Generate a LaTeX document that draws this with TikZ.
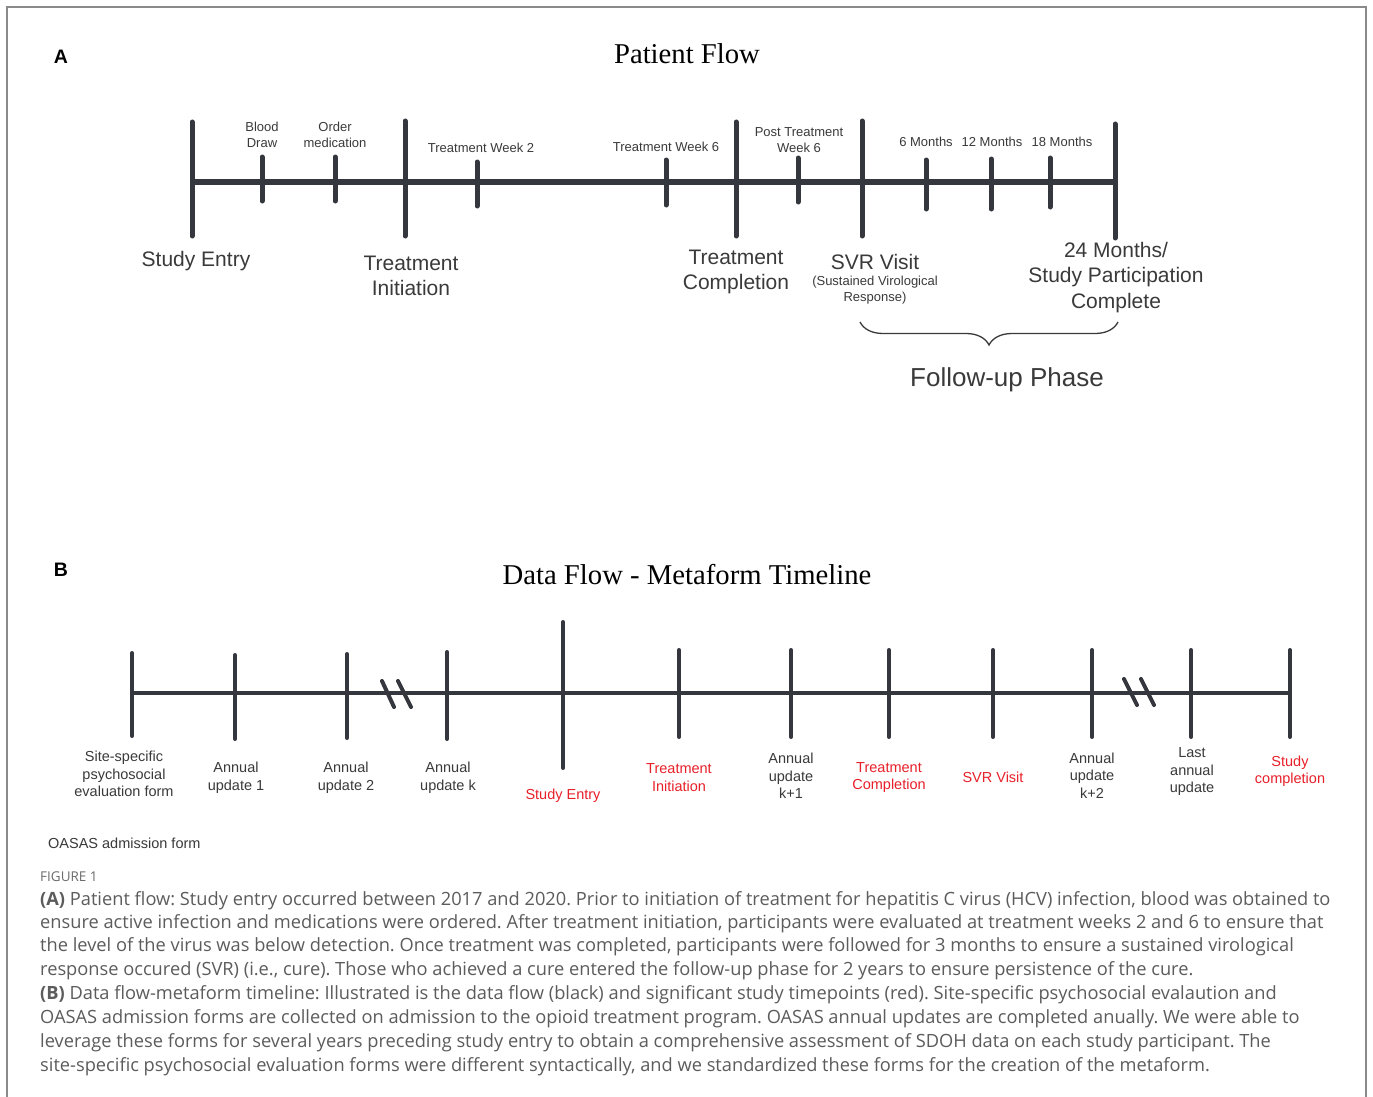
\documentclass[tikz,border=0pt]{standalone}
\usepackage{fontspec}
\setmainfont{Liberation Sans}
\newfontfamily\titleface{Liberation Serif}
\newfontfamily\capface{Open Sans}
\usetikzlibrary{decorations.pathreplacing}
\definecolor{axis}{HTML}{34383E}
\definecolor{labelgray}{HTML}{3A3A3A}
\definecolor{milestone}{HTML}{E8202A}
\definecolor{captiongray}{HTML}{5C5C5C}
\definecolor{framegray}{HTML}{8A8A8A}
\newcommand{\fsz}[2]{\fontsize{#1}{#2}\selectfont}

\begin{document}
\frenchspacing
\begin{tikzpicture}[x=1pt,y=-1pt,
  axisA/.style={draw=axis, line width=6pt},
  axisB/.style={draw=axis, line width=4pt},
  majortick/.style={draw=axis, line width=5pt, line cap=round},
  minortick/.style={draw=axis, line width=5pt, line cap=round},
  tickB/.style={draw=axis, line width=4pt, line cap=round},
  breakmark/.style={draw=axis, line width=4pt, line cap=round},
  panel/.style={font=\bfseries\fsz{19.5}{22}, text=black, inner sep=0pt},
  heading/.style={font=\titleface\fsz{28.7}{32}, text=black, inner sep=0pt},
  smalllab/.style={font=\fsz{13}{16}, text=labelgray, align=center, inner sep=0pt},
  biglab/.style={font=\fsz{21}{25.5}, text=labelgray, align=center, inner sep=0pt},
  blab/.style={font=\fsz{14.5}{17.5}, text=labelgray, align=center, inner sep=0pt},
  redlab/.style={blab, text=milestone},
  capline/.style={font=\capface\fsz{18.25}{21}, text=captiongray, anchor=base west, inner sep=0pt},
]
\useasboundingbox (0,0) rectangle (1373,1097);
\fill[white] (0,0) rectangle (1373,1097);
% open frame
\draw[framegray, line width=1.5pt] (7,1097) -- (7,7) -- (1366,7) -- (1366,1097);

% ================= Panel A =================
\node[panel] (labA) at (61,57) {A};
\node[heading] (titleA) at (687,54) {Patient Flow};

\draw[axisA] (192,182) -- (1115,182);
\foreach \x/\a/\b in {192/122/236, 405/121/236, 736/122/236, 862/121/236, 1115/124/238}
  \draw[majortick] (\x,\a) -- (\x,\b);
\foreach \x/\a/\b in {262/157/201, 335/157/201, 477/162/206, 666/160/205, 798/158/202, 926/160/209, 991/159/209, 1050/158/207}
  \draw[minortick] (\x,\a) -- (\x,\b);

\node[smalllab] (blood) at (262,135) {Blood\\Draw};
\node[smalllab] (order) at (335,135) {Order\\medication};
\node[smalllab] (tw2) at (481,148) {Treatment Week 2};
\node[smalllab] (tw6) at (666,147) {Treatment Week 6};
\node[smalllab] (ptw6) at (799,140) {Post Treatment\\Week 6};
\node[smalllab] (m6) at (926,142) {6 Months};
\node[smalllab] (m12) at (992,142) {12 Months};
\node[smalllab] (m18) at (1062,142) {18 Months};

\node[biglab] (entry) at (196,261.5) {Study Entry};
\node[biglab] (init) at (411,276) {Treatment\\Initiation};
\node[biglab] (compl) at (736,272) {Treatment\\Completion};
\node[biglab] (svr) at (875,261.5) {SVR Visit};
\node[smalllab] (svrsub) at (875,290) {(Sustained Virological\\Response)};
\node[biglab] (m24) at (1116,277.5) {24 Months/\\Study Participation\\Complete};

\coordinate (braceL) at (860,322);
\coordinate (braceR) at (1118,322);
\draw[labelgray, line width=1.3pt, decorate,
      decoration={brace, amplitude=23pt, mirror}] (braceL) -- (braceR);
\node[font=\fsz{26}{30}, text=labelgray, inner sep=0pt] (follow) at (1007,380) {Follow-up Phase};

% ================= Panel B =================
\node[panel] (labB) at (61,570) {B};
\node[heading] (titleB) at (687,575) {Data Flow - Metaform Timeline};

\draw[axisB] (132,693) -- (1290,693);
\foreach \x/\a/\b in {132/653/736, 235/655/739, 347/654/738, 447/652/739, 563/622/768, 679/650/737, 791/650/737, 889/650/737, 993/650/737, 1092/650/737, 1191/650/737, 1290/650/737}
  \draw[tickB] (\x,\a) -- (\x,\b);

% gaps in the time axis
\draw[breakmark] (382,681) -- (394,707);
\draw[breakmark] (398,681) -- (411,707);
\draw[breakmark] (1124,679) -- (1137,705);
\draw[breakmark] (1141,679) -- (1154,705);

\node[blab] (site) at (124,774) {Site-specific\\psychosocial\\evaluation form};
\node[blab] (au1) at (236,777.5) {Annual\\update 1};
\node[blab] (au2) at (346,777.5) {Annual\\update 2};
\node[blab] (auk) at (448,777.5) {Annual\\update k};
\node[redlab] (bentry) at (563,796) {Study Entry};
\node[redlab] (binit) at (679,777.5) {Treatment\\Initiation};
\node[blab] (auk1) at (791,776) {Annual\\update\\k+1};
\node[redlab] (bcompl) at (889,777.5) {Treatment\\Completion};
\node[redlab] (bsvr) at (993,777) {SVR Visit};
\node[blab] (auk2) at (1092,775.5) {Annual\\update\\k+2};
\node[blab] (last) at (1192,772) {Last\\annual\\update};
\node[redlab] (bend) at (1290,771) {Study\\completion};
\node[blab, anchor=west] (oasas) at (48,843) {OASAS admission form};

% ================= Caption =================
\node[capline, font=\capface\fsz{13.5}{16}, text=captiongray!90] (fig) at (40,881) {FIGURE 1};
\node[capline] (c1) at (40,905) {\textbf{(A)} Patient flow: Study entry occurred between 2017 and 2020. Prior to initiation of treatment for hepatitis C virus (HCV) infection, blood was obtained to};
\node[capline] (c2) at (40,928) {ensure active infection and medications were ordered. After treatment initiation, participants were evaluated at treatment weeks 2 and 6 to ensure that};
\node[capline] (c3) at (40,951) {the level of the virus was below detection. Once treatment was completed, participants were followed for 3 months to ensure a sustained virological};
\node[capline] (c4) at (40,975) {response occured (SVR) (i.e., cure). Those who achieved a cure entered the follow-up phase for 2 years to ensure persistence of the cure.};
\node[capline] (c5) at (40,999) {\textbf{(B)} Data flow-metaform timeline: Illustrated is the data flow (black) and significant study timepoints (red). Site-specific psychosocial evalaution and};
\node[capline] (c6) at (40,1023) {OASAS admission forms are collected on admission to the opioid treatment program. OASAS annual updates are completed anually. We were able to};
\node[capline] (c7) at (40,1047) {leverage these forms for several years preceding study entry to obtain a comprehensive assessment of SDOH data on each study participant. The};
\node[capline] (c8) at (40,1071) {site-specific psychosocial evaluation forms were different syntactically, and we standardized these forms for the creation of the metaform.};
\end{tikzpicture}
\end{document}
